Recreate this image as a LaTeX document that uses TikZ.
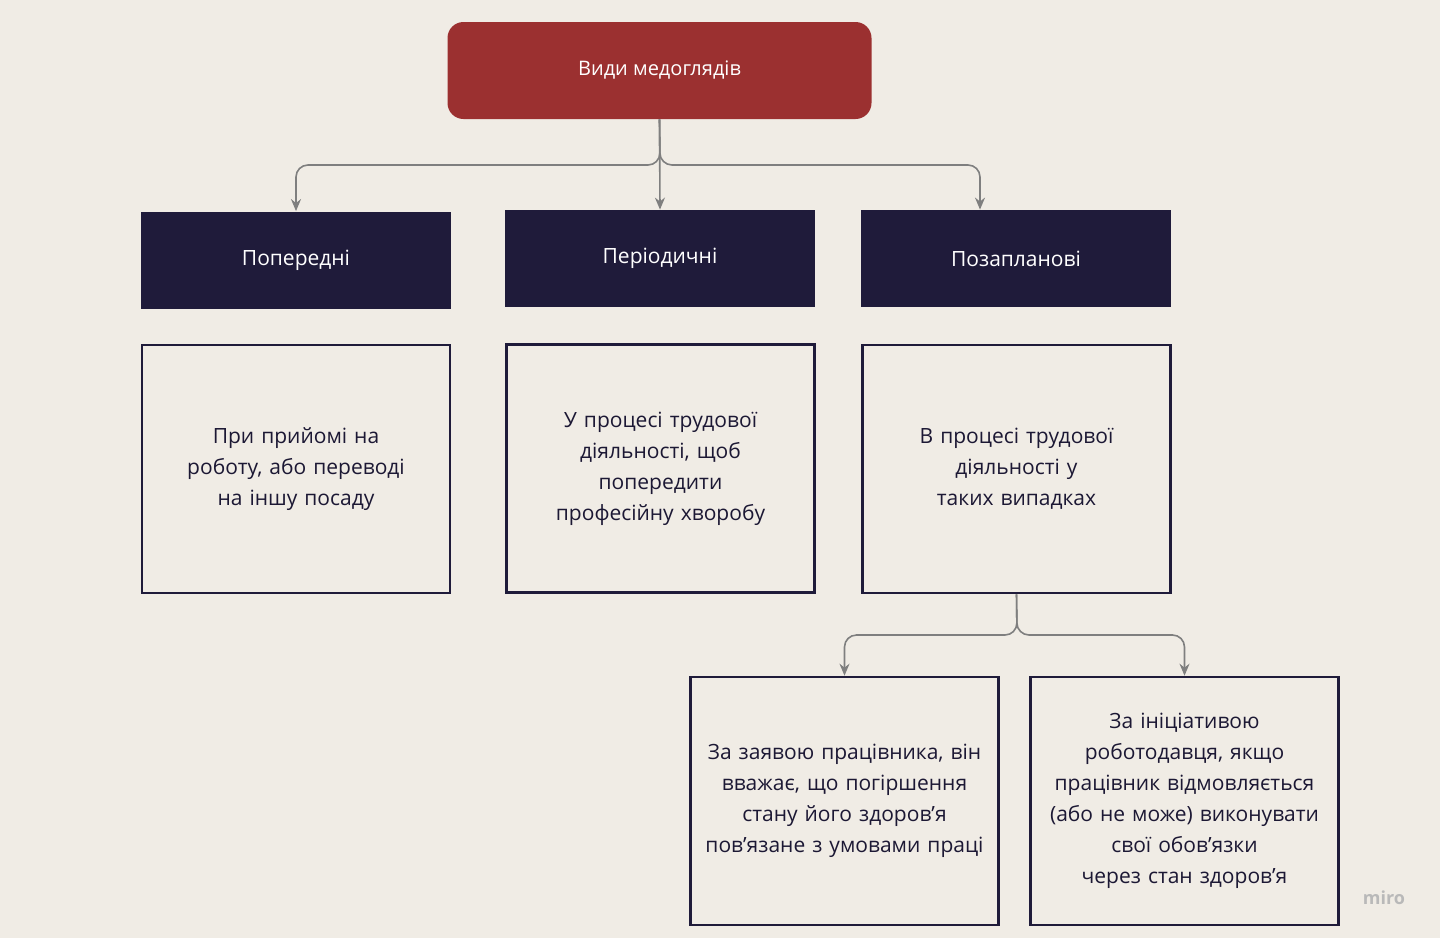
\documentclass[tikz,border=0pt]{standalone}
\usepackage{fontspec}
\setmainfont{Open Sans}
\usetikzlibrary{arrows.meta}
\definecolor{bgcol}{HTML}{F0ECE5}
\definecolor{redcol}{HTML}{9B3030}
\definecolor{navycol}{HTML}{1F1B3A}
\definecolor{linkcol}{HTML}{7F7F7F}
\tikzset{
  kind/.style={fill=navycol,text=white,minimum width=155pt,minimum height=48.5pt,font=\fontsize{10.5}{15.5}\selectfont},
  desc/.style={draw=navycol,line width=1.3pt,minimum width=154pt,minimum height=124pt,align=center,text width=142pt,text=navycol!90!black,font=\fontsize{10.5}{15.5}\selectfont},
  link/.style={draw=linkcol,line width=0.8pt,rounded corners=6pt,-{Stealth[length=6pt,width=5pt]}}
}
\begin{document}
\begin{tikzpicture}[x=0.5pt,y=-0.5pt]
  \fill[bgcol] (0,0) rectangle (1440,938);
  \useasboundingbox (0,0) rectangle (1440,938);
  % top
  \node[fill=redcol,text=white,rounded corners=8pt,minimum width=212pt,minimum height=48.5pt,font=\fontsize{10}{12}\selectfont] (top) at (659.5,70.5) {Види медоглядів};
  % kinds
  \node[kind] (pre) at (296,260) {Попередні};
  \node[kind] (per) at (660,258.5) {Періодичні};
  \node[kind] (poz) at (1016,258.5) {Позапланові};
  % descriptions
  \node[desc] (dpre) at (296,469) {При прийомі на роботу, або переводі на іншу посаду};
  \node[desc] (dper) at (660.5,468.5) {У процесі трудової діяльності, щоб попередити професійну хворобу};
  \node[desc] (dpoz) at (1016.5,469) {В процесі трудової діяльності у таких випадках};
  \node[desc] (dzaj) at (844.5,801) {За заявою працівника, він вважає, що погіршення стану його здоров'я пов'язане з умовами праці};
  \node[desc] (dini) at (1184.5,801) {За ініціативою роботодавця, якщо працівник відмовляється (або не може) виконувати свої обов'язки через стан здоров'я};
  % links
  \coordinate (fork) at (660,165);
  \draw[link] (top.south) -- (fork) -| (pre.north);
  \draw[link] (top.south) -- (per.north);
  \draw[link] (top.south) -- (fork) -| ([xshift=-18]poz.north);
  \coordinate (fork2) at (1017,635);
  \draw[link] (dpoz.south) -- (fork2) -| (dzaj.north);
  \draw[link] (dpoz.south) -- (fork2) -| (dini.north);
  \node[text=gray!55,font=\fontsize{9}{10}\selectfont\bfseries] (miro) at (1384,898) {miro};
\end{tikzpicture}
\end{document}
